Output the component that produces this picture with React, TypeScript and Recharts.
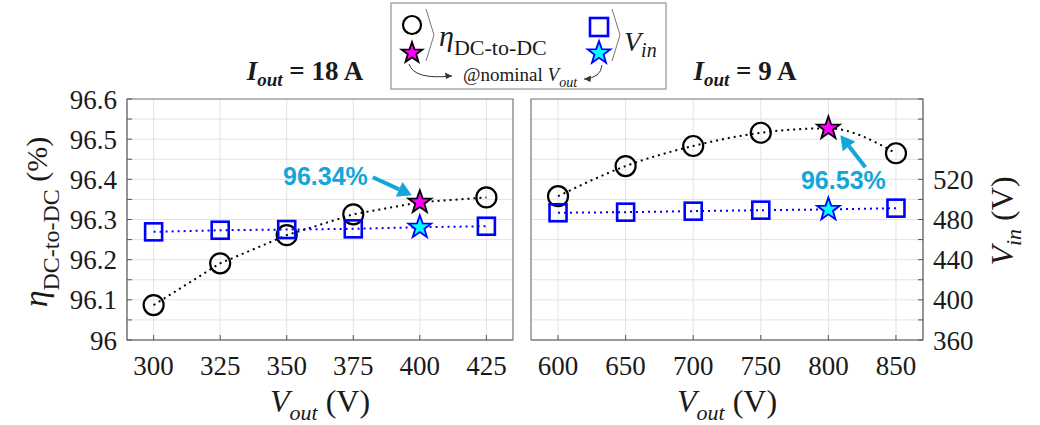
import React from 'react';
import { ComposedChart, Line, XAxis, YAxis, CartesianGrid, ReferenceArea, ReferenceDot } from 'recharts';

// I_out = 18 A
const VOUT_18 = [300, 325, 350, 375, 400, 425];
const EFF_18 = [96.087, 96.191, 96.261, 96.313, 96.343, 96.355];
const VIN_18 = [467.7, 469.3, 470.0, 470.7, 472.3, 473.3];
const NOMINAL_18 = 400;

// I_out = 9 A
const VOUT_9 = [600, 650, 700, 750, 800, 850];
const EFF_9 = [96.358, 96.433, 96.483, 96.516, 96.527, 96.465];
const VIN_9 = [486.7, 487.3, 488.3, 489.3, 490.0, 491.3];
const NOMINAL_9 = 800;

const EFF_TICKS = [96, 96.05, 96.1, 96.15, 96.2, 96.25, 96.3, 96.35, 96.4, 96.45, 96.5, 96.55, 96.6];
const EFF_LABELS = [96, 96.1, 96.2, 96.3, 96.4, 96.5, 96.6];
const VIN_TICKS = [360, 380, 400, 420, 440, 460, 480, 500, 520, 540, 560, 580, 600];
const VIN_LABELS = [360, 400, 440, 480, 520];
const EFF_DOMAIN = [96, 96.6];
const VIN_DOMAIN = [360, 600];
const X18_DOMAIN = [290, 435];
const X9_DOMAIN = [580, 870];

const SERIF = '"Liberation Serif", "Times New Roman", serif';
const SANS = '"Liberation Sans", Arial, sans-serif';
const CYAN = '#12a6d9';
const FRAME = '#7f7f7f';
const GRID = '#e3e3e3';

const rows18 = VOUT_18.map((v, i) => ({ vout: v, eff: EFF_18[i], vin: VIN_18[i] }));
const rows9 = VOUT_9.map((v, i) => ({ vout: v, eff: EFF_9[i], vin: VIN_9[i] }));

const near = (list: number[], v: number) => list.some((l) => Math.abs(l - v) < 1e-6);
const effFmt = (v: number) => (near(EFF_LABELS, v) ? String(Number(v.toFixed(1))) : '');
const vinFmt = (v: number) => (near(VIN_LABELS, v) ? String(v) : '');

function starPath(cx: number, cy: number, R: number) {
  const r = R * 0.4;
  let d = '';
  for (let i = 0; i < 10; i++) {
    const a = (-90 + i * 36) * Math.PI / 180;
    const rad = i % 2 ? r : R;
    d += (i ? 'L' : 'M') + (cx + rad * Math.cos(a)).toFixed(2) + ',' + (cy + rad * Math.sin(a)).toFixed(2);
  }
  return d + 'Z';
}

const effDot = (nominal: number) => (p: any) => {
  const { cx, cy, payload, index } = p;
  if (payload.vout === nominal)
    return <path key={'e' + index} d={starPath(cx, cy, 12)} fill="#ff00ff" stroke="#000" strokeWidth={1.8} strokeLinejoin="miter" />;
  return <circle key={'e' + index} cx={cx} cy={cy} r={10} fill="none" stroke="#000" strokeWidth={2.2} />;
};

const vinDot = (nominal: number) => (p: any) => {
  const { cx, cy, payload, index } = p;
  if (payload.vout === nominal)
    return <path key={'v' + index} d={starPath(cx, cy, 12)} fill="#00ffff" stroke="#0000ff" strokeWidth={1.8} />;
  return <rect key={'v' + index} x={cx - 8.5} y={cy - 8.5} width={17} height={17} fill="none" stroke="#0000ff" strokeWidth={2.6} />;
};

function arrow(x1: number, y1: number, x2: number, y2: number, color: string) {
  const dx = x2 - x1, dy = y2 - y1;
  const len = Math.hypot(dx, dy);
  const ux = dx / len, uy = dy / len;
  const hl = 14, hw = 8;
  const bx = x2 - ux * hl, by = y2 - uy * hl;
  return (
    <g>
      <line x1={x1} y1={y1} x2={bx} y2={by} stroke={color} strokeWidth={4} />
      <path d={`M${x2},${y2}L${bx - uy * hw},${by + ux * hw}L${bx + uy * hw},${by - ux * hw}Z`} fill={color} />
    </g>
  );
}

const annoLeft = (p: any) => {
  const { cx, cy } = p;
  return (
    <g>
      <text x={cx - 52} y={cy - 17} textAnchor="end" fontFamily={SANS} fontWeight="bold" fontSize={25} fill={CYAN}>96.34%</text>
      {arrow(cx - 47, cy - 25, cx - 8, cy - 7, CYAN)}
    </g>
  );
};

const annoRight = (p: any) => {
  const { cx, cy } = p;
  return (
    <g>
      <text x={cx + 15} y={cy + 61} textAnchor="middle" fontFamily={SANS} fontWeight="bold" fontSize={25} fill={CYAN}>96.53%</text>
      {arrow(cx + 37, cy + 39, cx + 12, cy + 7, CYAN)}
    </g>
  );
};

const tickStyle = { fontSize: 27, fill: '#1a1a1a', fontFamily: SERIF };
const tickLineStyle = { stroke: '#555' };

function Panel18() {
  return (
    <ComposedChart width={530} height={425} data={rows18} margin={{ top: 99, right: 17, bottom: 45, left: 0 }}>
      <CartesianGrid yAxisId="eff" stroke={GRID} strokeWidth={1} />
      <XAxis dataKey="vout" type="number" domain={X18_DOMAIN} ticks={VOUT_18} interval={0} allowDataOverflow
        tick={tickStyle} tickLine={tickLineStyle} tickSize={-5} tickMargin={21} height={40} axisLine={{ stroke: FRAME }} />
      <YAxis yAxisId="eff" domain={EFF_DOMAIN} ticks={EFF_TICKS} interval={0} allowDataOverflow width={127}
        tick={tickStyle} tickFormatter={effFmt} tickLine={tickLineStyle} tickSize={-5} tickMargin={15} axisLine={{ stroke: FRAME }} />
      <YAxis yAxisId="vin" orientation="right" domain={VIN_DOMAIN} allowDataOverflow hide />
      <ReferenceArea yAxisId="eff" x1={X18_DOMAIN[0]} x2={X18_DOMAIN[1]} y1={EFF_DOMAIN[0]} y2={EFF_DOMAIN[1]} fill="none" stroke={FRAME} strokeWidth={1.2} />
      <Line yAxisId="eff" dataKey="eff" type="linear" stroke="#000" strokeWidth={2} strokeDasharray="2 4" dot={effDot(NOMINAL_18)} activeDot={false} isAnimationActive={false} />
      <Line yAxisId="vin" dataKey="vin" type="linear" stroke="#0000ff" strokeWidth={2} strokeDasharray="2 4" dot={vinDot(NOMINAL_18)} activeDot={false} isAnimationActive={false} />
      <ReferenceDot yAxisId="eff" x={NOMINAL_18} y={EFF_18[VOUT_18.indexOf(NOMINAL_18)]} r={0} shape={annoLeft} />
    </ComposedChart>
  );
}

function Panel9() {
  return (
    <ComposedChart width={510} height={425} data={rows9} margin={{ top: 99, right: 0, bottom: 45, left: 1 }}>
      <CartesianGrid yAxisId="vin" stroke={GRID} strokeWidth={1} />
      <XAxis dataKey="vout" type="number" domain={X9_DOMAIN} ticks={VOUT_9} interval={0} allowDataOverflow
        tick={tickStyle} tickLine={tickLineStyle} tickSize={-5} tickMargin={21} height={40} axisLine={{ stroke: FRAME }} />
      <YAxis yAxisId="eff" domain={EFF_DOMAIN} allowDataOverflow hide />
      <YAxis yAxisId="vin" orientation="right" domain={VIN_DOMAIN} ticks={VIN_TICKS} interval={0} allowDataOverflow width={117}
        tick={tickStyle} tickFormatter={vinFmt} tickLine={tickLineStyle} tickSize={-5} tickMargin={15} axisLine={{ stroke: FRAME }} />
      <ReferenceArea yAxisId="vin" x1={X9_DOMAIN[0]} x2={X9_DOMAIN[1]} y1={VIN_DOMAIN[0]} y2={VIN_DOMAIN[1]} fill="none" stroke={FRAME} strokeWidth={1.2} />
      <Line yAxisId="eff" dataKey="eff" type="monotone" stroke="#000" strokeWidth={2} strokeDasharray="2 4" dot={effDot(NOMINAL_9)} activeDot={false} isAnimationActive={false} />
      <Line yAxisId="vin" dataKey="vin" type="linear" stroke="#0000ff" strokeWidth={2} strokeDasharray="2 4" dot={vinDot(NOMINAL_9)} activeDot={false} isAnimationActive={false} />
      <ReferenceDot yAxisId="eff" x={NOMINAL_9} y={EFF_9[VOUT_9.indexOf(NOMINAL_9)]} r={0} shape={annoRight} />
    </ComposedChart>
  );
}

function Overlay() {
  const ink = '#1a1a1a';
  return (
    <svg width={1040} height={425} style={{ position: 'absolute', left: 0, top: 0, pointerEvents: 'none' }}>
      {/* panel titles */}
      <text x={305} y={80} textAnchor="middle" fontFamily={SERIF} fontWeight="bold" fontSize={27} fill={ink}>
        <tspan fontStyle="italic">I</tspan><tspan fontStyle="italic" fontSize={19} dy={6}>out</tspan><tspan dy={-6}> = 18 A</tspan>
      </text>
      <text x={745} y={80} textAnchor="middle" fontFamily={SERIF} fontWeight="bold" fontSize={27} fill={ink}>
        <tspan fontStyle="italic">I</tspan><tspan fontStyle="italic" fontSize={19} dy={6}>out</tspan><tspan dy={-6}> = 9 A</tspan>
      </text>

      {/* axis titles */}
      <text transform="translate(47,222) rotate(-90)" textAnchor="middle" fontFamily={SERIF} fill={ink}>
        <tspan fontStyle="italic" fontSize={34}>η</tspan><tspan fontSize={24} dy={12}>DC-to-DC</tspan><tspan fontSize={30} dy={-12}> (%)</tspan>
      </text>
      <text transform="translate(1013,221) rotate(-90)" textAnchor="middle" fontFamily={SERIF} fill={ink}>
        <tspan fontStyle="italic" fontSize={32}>V</tspan><tspan fontStyle="italic" fontSize={22} dy={8}>in</tspan><tspan fontSize={32} dy={-8}> (V)</tspan>
      </text>
      {[320, 727].map((cx) => (
        <text key={cx} x={cx} y={412} textAnchor="middle" fontFamily={SERIF} fill={ink}>
          <tspan fontStyle="italic" fontSize={32}>V</tspan><tspan fontStyle="italic" fontSize={22} dy={8}>out</tspan><tspan fontSize={32} dy={-8}> (V)</tspan>
        </text>
      ))}

      {/* legend */}
      <rect x={391} y={3} width={275} height={86} fill="#fff" stroke={FRAME} strokeWidth={1} />
      <circle cx={412} cy={25} r={9} fill="none" stroke="#000" strokeWidth={2.2} />
      <path d={starPath(412, 53, 11)} fill="#ff00ff" stroke="#000" strokeWidth={1.8} />
      <polyline points="426,9 434,35 426,61" fill="none" stroke="#777" strokeWidth={1} />
      <text x={439} y={46} fontFamily={SERIF} fill={ink}>
        <tspan fontStyle="italic" fontSize={30}>η</tspan><tspan fontSize={22} dy={9}>DC-to-DC</tspan>
      </text>
      <rect x={590} y={18} width={18} height={18} fill="none" stroke="#0000ff" strokeWidth={2.6} />
      <path d={starPath(599, 53, 12)} fill="#00ffff" stroke="#0000ff" strokeWidth={1.8} />
      <polyline points="612,9 620,35 612,61" fill="none" stroke="#777" strokeWidth={1} />
      <text x={624} y={51} fontFamily={SERIF} fill={ink}>
        <tspan fontStyle="italic" fontSize={28}>V</tspan><tspan fontStyle="italic" fontSize={20} dy={6}>in</tspan>
      </text>
      <text x={463} y={81} fontFamily={SERIF} fontSize={19} fill={ink}>
        @nominal <tspan fontStyle="italic">V</tspan><tspan fontStyle="italic" fontSize={14} dy={6}>out</tspan>
      </text>
      <path d="M409,64 Q414,80 452,76" fill="none" stroke="#333" strokeWidth={1} />
      <path d="M452,76 L445,72.5 L446,79 Z" fill="#333" />
      <path d="M602,65 Q601,78 584,79" fill="none" stroke="#333" strokeWidth={1} />
      <path d="M584,79 L591,75.5 L590.5,82 Z" fill="#333" />
    </svg>
  );
}

export default function App() {
  return (
    <div style={{ position: 'absolute', left: 0, top: 0, width: 1040, height: 425, background: '#fff' }}>
      <div style={{ position: 'absolute', left: 0, top: 0 }}>
        <Panel18 />
      </div>
      <div style={{ position: 'absolute', left: 530, top: 0 }}>
        <Panel9 />
      </div>
      <Overlay />
    </div>
  );
}
